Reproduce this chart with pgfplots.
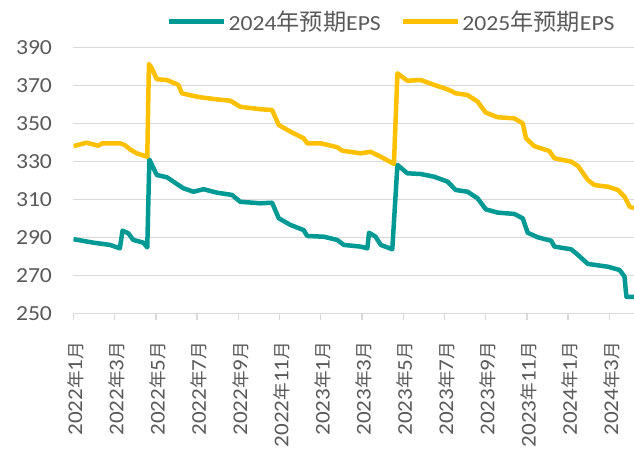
\documentclass[border=0pt]{standalone}
\usepackage{pgfplots}
\pgfplotsset{compat=1.18}
\usepackage{fontspec}
\setmainfont{Carlito}[FakeStretch=1.1]
\newfontfamily\cjk{Noto Sans CJK SC}[Scale=1.08]
\newfontfamily\cjks{Noto Sans CJK SC}[Scale=0.84]
\definecolor{tealc}{RGB}{0,153,148}
\definecolor{goldc}{RGB}{255,192,0}
\definecolor{txtc}{RGB}{89,89,89}
\definecolor{gridc}{RGB}{217,217,217}
\newcommand{\lbl}{\fontsize{21.5bp}{24bp}\selectfont}
\newcommand{\xl}{\fontsize{21bp}{24bp}\selectfont}
\begin{document}
\begin{tikzpicture}
\path[use as bounding box] (-73.5bp,-135.7bp) rectangle (560.5bp,313.3bp);
\begin{axis}[
  scale only axis, width=560.5bp, height=266bp,
  xmin=0, xmax=27.2, ymin=250, ymax=390,
  axis line style={draw=none},
  ytick={250,270,...,390},
  ymajorgrids, major grid style={gridc, line width=1.3bp},
  ytick style={draw=none},
  xtick={0,2,...,26}, xtick pos=lower, tick align=outside,
  xtick style={gridc, line width=1.3bp}, major tick length=7bp,
  xticklabels={2022{\cjks 年}1{\cjks 月},2022{\cjks 年}3{\cjks 月},2022{\cjks 年}5{\cjks 月},2022{\cjks 年}7{\cjks 月},2022{\cjks 年}9{\cjks 月},2022{\cjks 年}11{\cjks 月},2023{\cjks 年}1{\cjks 月},2023{\cjks 年}3{\cjks 月},2023{\cjks 年}5{\cjks 月},2023{\cjks 年}7{\cjks 月},2023{\cjks 年}9{\cjks 月},2023{\cjks 年}11{\cjks 月},2024{\cjks 年}1{\cjks 月},2024{\cjks 年}3{\cjks 月}},
  xticklabel style={yshift=-18bp, xshift=2bp, rotate=90, anchor=east, font=\xl, text=txtc},
  yticklabel style={font=\lbl, text=txtc, xshift=-11bp},
  /pgf/number format/assume math mode=true,
  legend style={draw=none, fill=none, at={(0.568,1.097)}, anchor=center,
    font=\lbl, text=txtc, nodes={inner sep=2bp},
    /tikz/every even column/.append style={column sep=18bp}},
  legend columns=2,
  legend image code/.code={\draw[line width=4.5bp] (0bp,0bp) -- (55bp,0bp);},
]
\addplot[tealc, line width=4.5bp, line join=round, no markers] coordinates {
(0,289)(0.95,287.2)(1.77,286)(2.25,284.2)(2.38,293.5)(2.66,292.1)(2.9,288.6)(3.39,287.2)(3.58,284.7)(3.68,331)(4.04,322.8)(4.53,321.6)(4.93,318.7)(5.33,315.8)(5.82,314)(6.31,315.3)(6.96,313.5)(7.69,312.3)(8.09,308.7)(9.07,307.9)(9.64,308.2)(9.96,300)(10.53,296.5)(11.17,293.8)(11.34,290.7)(12.15,290.3)(12.8,288.6)(13.12,286)(13.93,285.1)(14.26,284.2)(14.34,292.4)(14.66,290.3)(14.91,286)(15.47,283.7)(15.72,328.1)(16.2,323.7)(16.85,323.3)(17.5,321.9)(18.15,319.3)(18.55,314.9)(19.12,314)(19.61,310.5)(20.01,304.7)(20.58,303)(21.39,302.3)(21.8,300)(22.04,292.4)(22.53,290)(23.18,288.2)(23.34,285.1)(24.15,283.7)(24.48,280.7)(24.96,276)(25.94,274.5)(26.5,272.8)(26.74,269.3)(26.83,258.7)(27.2,258.7)
};
\addlegendentry{2024{\cjk 年预期}EPS}
\addplot[goldc, line width=4.5bp, line join=round, no markers] coordinates {
(0,338)(0.63,339.8)(1.2,338.2)(1.4,339.5)(2.26,339.5)(2.5,338.5)(2.74,336.3)(3.07,334.2)(3.58,332.4)(3.66,381.2)(3.8,379)(4.04,373.2)(4.53,372.8)(5.09,370.2)(5.26,365.8)(5.82,364.4)(6.15,363.7)(6.96,362.6)(7.61,361.9)(8.09,358.7)(9.07,357.4)(9.64,357)(9.96,349.1)(10.53,345.6)(11.17,342.1)(11.34,339.5)(11.99,339.5)(12.8,337.4)(13.04,335.6)(13.93,334.2)(14.42,335)(14.91,332.4)(15.55,328.6)(15.72,376.3)(16.2,372.4)(16.85,372.8)(17.5,370.2)(18.15,367.9)(18.55,365.8)(19.12,364.9)(19.61,361.4)(20.01,355.6)(20.58,353.2)(21.39,352.6)(21.8,350)(21.96,342.1)(22.36,338)(23.09,335.4)(23.34,331.6)(24.15,329.8)(24.48,327.5)(24.96,320.2)(25.28,317.5)(25.94,316.6)(26.42,314.9)(26.74,311.4)(26.99,306.1)(27.2,305.3)
};
\addlegendentry{2025{\cjk 年预期}EPS}
\end{axis}
\end{tikzpicture}
\end{document}
